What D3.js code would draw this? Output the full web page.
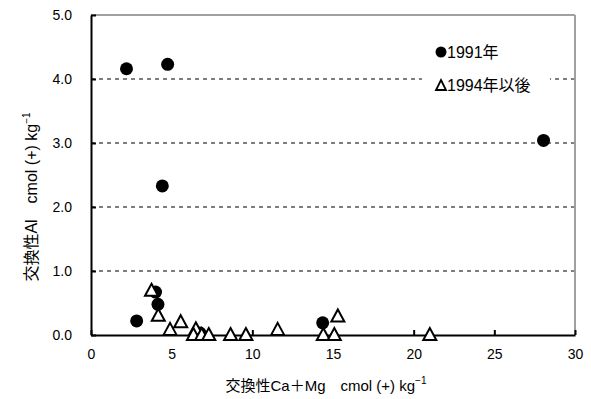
<!DOCTYPE html>
<html>
<head>
<meta charset="utf-8">
<script src="https://cdn.jsdelivr.net/npm/d3@7"></script>
<style>
  body { margin: 0; background: #fff; }
  text { font-family: "Liberation Sans", "Noto Sans CJK JP", sans-serif; fill: #000; }
</style>
</head>
<body>
<div id="chart"></div>
<script>
// 1991 (filled circles)
const x1991 = [2.2, 4.75, 4.42, 28.05, 4.0, 4.15, 2.83, 14.36, 6.76];
const y1991 = [4.16, 4.23, 2.33, 3.04, 0.67, 0.48, 0.22, 0.19, 0.03];
// 1994 and later (open triangles)
const x1994 = [3.75, 4.17, 4.9, 5.56, 6.5, 6.35, 6.86, 7.3, 8.65, 9.6, 11.57, 14.4, 15.08, 15.3, 21.0];
const y1994 = [0.69, 0.3, 0.08, 0.2, 0.09, 0, 0, 0, 0, 0, 0.08, 0, 0, 0.29, 0];
const xTicks = [0, 5, 10, 15, 20, 25, 30];
const yTicks = [0, 1, 2, 3, 4, 5];
const legendLabels = ["1991年", "1994年以後"];

const W = 591, H = 399;
const margin = { top: 15, right: 16, bottom: 64, left: 91 };

const svg = d3.select("#chart").append("svg")
    .attr("width", W)
    .attr("height", H);

const x = d3.scaleLinear().domain([0, 30]).range([margin.left, W - margin.right]);
const y = d3.scaleLinear().domain([0, 5]).range([H - margin.bottom, margin.top]);

// dashed gridlines
svg.append("g")
    .selectAll("line")
    .data(yTicks.filter(d => d > 0 && d < 5))
    .enter().append("line")
    .attr("x1", x(0)).attr("x2", x(30))
    .attr("y1", d => y(d)).attr("y2", d => y(d))
    .attr("stroke", "#000")
    .attr("stroke-width", 1)
    .attr("stroke-dasharray", "4,4");

// top / right frame in gray
svg.append("line")
    .attr("x1", x(0)).attr("x2", x(30)).attr("y1", y(5)).attr("y2", y(5))
    .attr("stroke", "#a0a0a0").attr("stroke-width", 2);
svg.append("line")
    .attr("x1", x(30)).attr("x2", x(30)).attr("y1", y(0)).attr("y2", y(5))
    .attr("stroke", "#a0a0a0").attr("stroke-width", 2);

// legend background (hides gridline under it)
const legend = svg.append("g");
legend.append("rect")
    .attr("x", 422).attr("y", 36).attr("width", 128).attr("height", 64)
    .attr("fill", "#fff");

// axes (ticks inside)
const xAxis = svg.append("g")
    .attr("transform", `translate(0,${y(0)})`)
    .call(d3.axisBottom(x).tickValues(xTicks).tickSizeInner(-5).tickSizeOuter(0).tickPadding(14).tickFormat(d3.format("d")));
const yAxis = svg.append("g")
    .attr("transform", `translate(${x(0)},0)`)
    .call(d3.axisLeft(y).tickValues(yTicks).tickSizeInner(-5).tickSizeOuter(0).tickPadding(19).tickFormat(d3.format(".1f")));

[xAxis, yAxis].forEach(g => {
  g.select(".domain").attr("stroke", "#000").attr("stroke-width", 2);
  g.selectAll(".tick line").attr("stroke", "#000").attr("stroke-width", 2);
  g.selectAll(".tick text").style("font-size", "14px").attr("fill", "#000")
      .style("font-family", "'Liberation Sans', sans-serif");
});

// points
svg.append("g")
    .selectAll("circle")
    .data(x1991.map((v, i) => [v, y1991[i]]))
    .enter().append("circle")
    .attr("cx", d => x(d[0]))
    .attr("cy", d => y(d[1]))
    .attr("r", 6.5)
    .attr("fill", "#000");

const tri = "M0,-7L6.5,5L-6.5,5Z";
svg.append("g")
    .selectAll("path")
    .data(x1994.map((v, i) => [v, y1994[i]]))
    .enter().append("path")
    .attr("transform", d => `translate(${x(d[0])},${y(d[1])})`)
    .attr("d", tri)
    .attr("fill", "#fff")
    .attr("stroke", "#000")
    .attr("stroke-width", 2)
    .attr("stroke-linejoin", "miter");

// legend entries
legend.append("circle").attr("cx", 441).attr("cy", 52).attr("r", 5.5).attr("fill", "#000");
legend.append("path").attr("d", "M441,80L446,90L436,90Z")
    .attr("fill", "none").attr("stroke", "#000").attr("stroke-width", 1.8);
legend.selectAll("text.lg")
    .data(legendLabels)
    .enter().append("text")
    .attr("class", "lg")
    .attr("x", 447)
    .attr("y", (d, i) => 58 + i * 33)
    .style("font-size", "16px")
    .text(d => d);

// axis titles
const xt = svg.append("text")
    .attr("x", 326).attr("y", 391)
    .attr("text-anchor", "middle")
    .style("font-size", "15px");
xt.append("tspan").text("交換性Ca＋Mg　cmol (+) kg");
xt.append("tspan").attr("dy", -7).style("font-size", "10px").text("−1");

const yt = svg.append("text")
    .attr("transform", "translate(37,197) rotate(-90)")
    .attr("text-anchor", "middle")
    .style("font-size", "16px");
yt.append("tspan").text("交換性Al　cmol (+) kg");
yt.append("tspan").attr("dy", -7).style("font-size", "10px").text("−1");
</script>
</body>
</html>
